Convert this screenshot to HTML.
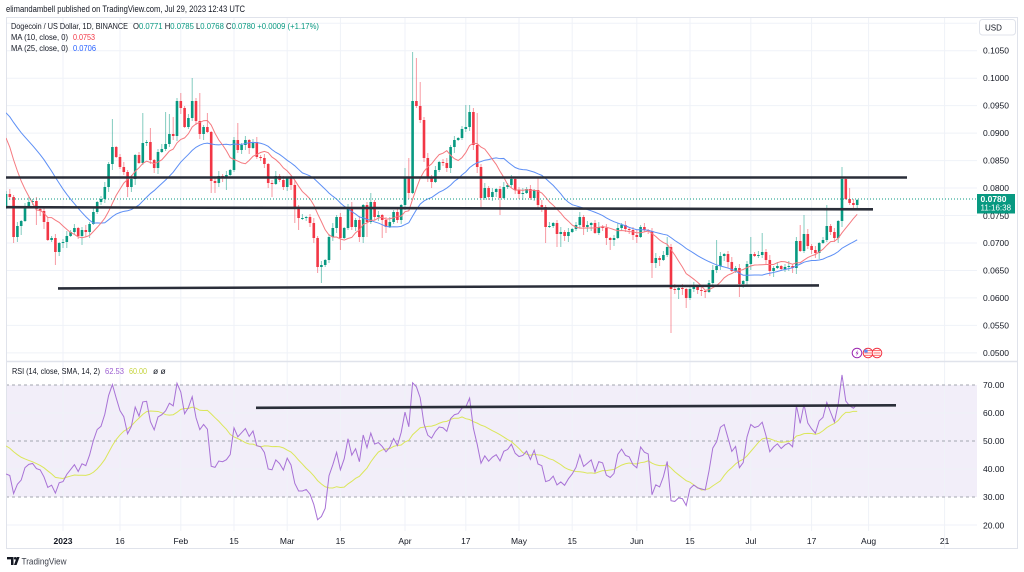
<!DOCTYPE html>
<html><head><meta charset="utf-8"><style>
html,body{margin:0;padding:0;background:#fff;}
svg{display:block;font-family:"Liberation Sans",sans-serif;}
</style></head><body>
<svg id="c" width="1024" height="572" viewBox="0 0 1024 572" xmlns="http://www.w3.org/2000/svg">
<defs>
<clipPath id="mp"><rect x="6" y="17" width="971" height="344"/></clipPath>
<clipPath id="rp"><rect x="6" y="362" width="971" height="167"/></clipPath>
</defs>
<rect width="1024" height="572" fill="#fff"/>
<!-- RSI band -->
<rect x="6" y="385" width="971" height="112" fill="#f2eef9"/>
<!-- grid -->
<g stroke="#eff2f8" stroke-width="1">
<line x1="6" y1="23.2" x2="977" y2="23.2"/><line x1="6" y1="50.7" x2="977" y2="50.7"/><line x1="6" y1="78.2" x2="977" y2="78.2"/><line x1="6" y1="105.6" x2="977" y2="105.6"/><line x1="6" y1="133.1" x2="977" y2="133.1"/><line x1="6" y1="160.6" x2="977" y2="160.6"/><line x1="6" y1="188" x2="977" y2="188"/><line x1="6" y1="215.5" x2="977" y2="215.5"/><line x1="6" y1="243" x2="977" y2="243"/><line x1="6" y1="270.5" x2="977" y2="270.5"/><line x1="6" y1="297.9" x2="977" y2="297.9"/><line x1="6" y1="325.4" x2="977" y2="325.4"/><line x1="6" y1="352.9" x2="977" y2="352.9"/>
<line x1="6" y1="413" x2="977" y2="413"/><line x1="6" y1="469" x2="977" y2="469"/><line x1="6" y1="525" x2="977" y2="525"/>
<line x1="63" y1="17" x2="63" y2="531"/><line x1="120" y1="17" x2="120" y2="531"/><line x1="180.8" y1="17" x2="180.8" y2="531"/><line x1="234" y1="17" x2="234" y2="531"/><line x1="287.2" y1="17" x2="287.2" y2="531"/><line x1="340.4" y1="17" x2="340.4" y2="531"/><line x1="405" y1="17" x2="405" y2="531"/><line x1="465.8" y1="17" x2="465.8" y2="531"/><line x1="519" y1="17" x2="519" y2="531"/><line x1="572.2" y1="17" x2="572.2" y2="531"/><line x1="636.8" y1="17" x2="636.8" y2="531"/><line x1="690" y1="17" x2="690" y2="531"/><line x1="750.8" y1="17" x2="750.8" y2="531"/><line x1="811.6" y1="17" x2="811.6" y2="531"/><line x1="868.6" y1="17" x2="868.6" y2="531"/><line x1="944.6" y1="17" x2="944.6" y2="549"/>
</g>
<g stroke="#a3a6af" stroke-width="1" stroke-dasharray="3,3">
<line x1="6" y1="385" x2="977" y2="385"/><line x1="6" y1="441" x2="977" y2="441"/><line x1="6" y1="497" x2="977" y2="497"/>
</g>
<!-- frame -->
<rect x="6.5" y="17.5" width="1011" height="531" fill="none" stroke="#e0e3eb" stroke-width="1"/>
<line x1="6" y1="361.5" x2="1018" y2="361.5" stroke="#e0e3eb" stroke-width="1.6"/>

<g id="main" clip-path="url(#mp)"></g>
<g id="rsi" clip-path="url(#rp)"></g>

<!-- trend lines -->
<g stroke="#2a2e39" stroke-width="2.6" stroke-linecap="butt">
<line x1="6" y1="177.5" x2="907" y2="177.5"/>
<line x1="6" y1="207.2" x2="873" y2="209.3"/>
<line x1="58" y1="288.4" x2="819" y2="285.4"/>
<line x1="256" y1="407.8" x2="896" y2="405.3"/>
</g>
<!-- price line -->
<line x1="6" y1="199" x2="977" y2="199" stroke="#089981" stroke-width="1" stroke-dasharray="1,2"/>

<!-- header -->
<text x="6" y="12" font-size="9" fill="#131722" textLength="239" lengthAdjust="spacingAndGlyphs">elimandambell published on TradingView.com, Jul 29, 2023 12:43 UTC</text>
<text x="11" y="29" font-size="8.5" fill="#131722" textLength="117" lengthAdjust="spacingAndGlyphs">Dogecoin / US Dollar, 1D, BINANCE</text>
<text x="133" y="29" font-size="8.5" fill="#089981" textLength="186" lengthAdjust="spacingAndGlyphs"><tspan fill="#131722">O</tspan>0.0771 <tspan fill="#131722">H</tspan>0.0785 <tspan fill="#131722">L</tspan>0.0768 <tspan fill="#131722">C</tspan>0.0780 +0.0009 (+1.17%)</text>
<text x="11" y="40" font-size="8.5" fill="#131722" textLength="57" lengthAdjust="spacingAndGlyphs">MA (10, close, 0)</text>
<text x="73" y="40" font-size="8.5" fill="#f23645" textLength="22" lengthAdjust="spacingAndGlyphs">0.0753</text>
<text x="11" y="51" font-size="8.5" fill="#131722" textLength="57" lengthAdjust="spacingAndGlyphs">MA (25, close, 0)</text>
<text x="73" y="51" font-size="8.5" fill="#2962ff" textLength="23" lengthAdjust="spacingAndGlyphs">0.0706</text>
<text x="12" y="374" font-size="8.5" fill="#131722" textLength="88" lengthAdjust="spacingAndGlyphs">RSI (14, close, SMA, 14, 2)</text>
<text x="105" y="374" font-size="8.5" fill="#9c5fd0" textLength="19" lengthAdjust="spacingAndGlyphs">62.53</text>
<text x="129" y="374" font-size="8.5" fill="#c6d43c" textLength="18" lengthAdjust="spacingAndGlyphs">60.00</text>
<text x="153" y="374" font-size="8.5" fill="#131722">ø ø</text>

<!-- price axis -->
<g font-size="8.5" fill="#131722" dominant-baseline="central">
<text x="983" y="50.7">0.1050</text><text x="983" y="78.2">0.1000</text><text x="983" y="105.6">0.0950</text><text x="983" y="133.1">0.0900</text><text x="983" y="160.6">0.0850</text><text x="983" y="188">0.0800</text><text x="983" y="215.8">0.0750</text><text x="983" y="243">0.0700</text><text x="983" y="270.5">0.0650</text><text x="983" y="297.9">0.0600</text><text x="983" y="325.4">0.0550</text><text x="983" y="352.9">0.0500</text>
<text x="983" y="385">70.00</text><text x="983" y="413">60.00</text><text x="983" y="441">50.00</text><text x="983" y="469">40.00</text><text x="983" y="497">30.00</text><text x="983" y="525.5">20.00</text>
</g>
<rect x="977" y="194" width="38" height="19.5" fill="#089981"/>
<text x="980.5" y="202" font-size="8.5" font-weight="bold" fill="#fff">0.0780</text>
<text x="980.5" y="210.5" font-size="8" fill="#fff">11:16:38</text>
<rect x="979.5" y="19.5" width="36" height="15.5" rx="3" fill="#fff" stroke="#e0e3eb"/>
<text x="985" y="30.5" font-size="8" fill="#131722">USD</text>

<!-- time axis -->
<g font-size="8.5" fill="#131722" text-anchor="middle">
<text x="63" y="544" font-weight="bold">2023</text><text x="120" y="544">16</text><text x="180.8" y="544">Feb</text><text x="234" y="544">15</text><text x="287.2" y="544">Mar</text><text x="340.4" y="544">15</text><text x="405" y="544">Apr</text><text x="465.8" y="544">17</text><text x="519" y="544">May</text><text x="572.2" y="544">15</text><text x="636.8" y="544">Jun</text><text x="690" y="544">15</text><text x="750.8" y="544">Jul</text><text x="811.6" y="544">17</text><text x="868.6" y="544">Aug</text><text x="944.6" y="544">21</text>
</g>

<!-- icons -->
<circle cx="857" cy="353" r="4.8" fill="#fff" stroke="#9c27b0" stroke-width="1"/>
<path d="M858 349.8 L855.6 353.4 L857.2 353.4 L856 356.4 L858.6 352.6 L857 352.6 Z" fill="#9c27b0"/>
<g>
<circle cx="868" cy="353" r="4.8" fill="#fff" stroke="#f23645" stroke-width="1"/>
<rect x="864.5" y="350" width="7" height="1.1" fill="#f77"/><rect x="864.5" y="352.4" width="7" height="1.1" fill="#f77"/><rect x="864.5" y="354.8" width="7" height="1.1" fill="#f77"/>
<rect x="864.2" y="349.6" width="3.4" height="3" fill="#5b8cf5"/>
<circle cx="877" cy="353" r="4.8" fill="#fff" stroke="#f23645" stroke-width="1"/>
<rect x="873.5" y="350" width="7" height="1.1" fill="#f77"/><rect x="873.5" y="352.4" width="7" height="1.1" fill="#f77"/><rect x="873.5" y="354.8" width="7" height="1.1" fill="#f77"/>
</g>

<!-- logo -->
<path d="M7 557 H13.5 V565 H11 V559.4 H7 Z" fill="#131722"/>
<circle cx="15.2" cy="558.3" r="1.3" fill="#131722"/>
<path d="M16.8 557 H19.6 L16.6 565 H14 Z" fill="#131722"/>
<text x="21.5" y="564.5" font-size="9.5" fill="#3b3f4a" textLength="45" lengthAdjust="spacingAndGlyphs">TradingView</text>
</svg>
<script>
(function(){
const NS="http://www.w3.org/2000/svg";
function el(tag,a,p){const e=document.createElementNS(NS,tag);for(const k in a)e.setAttribute(k,a[k]);p.appendChild(e);return e;}
const C=[194,197,237,226,221,206,202,201,209,211,
222,240,238,252,243,242,236,232,228,236,
230,232,224,212,202,199,187,164,147,157,
167,172,187,179,155,163,143,142,160,168,
152,149,144,134,136,101,108,127,118,101,
121,134,127,132,181,183,176,177,175,170,
140,150,145,140,148,142,157,158,164,183,
184,176,180,187,178,185,207,218,218,217,
223,238,267,265,260,237,228,217,238,228,
207,227,220,237,205,222,202,217,215,220,
227,222,212,220,205,177,193,101,106,120,
158,177,182,170,162,163,168,147,140,138,
129,127,112,
145,167,198,188,197,192,189,
198,187,185,179,190,194,193,189,198,190,
205,207,227,226,223,234,232,236,232,229,
225,217,227,225,223,233,227,228,238,240,
238,228,225,229,230,235,237,227,230,231,
263,258,260,255,247,289,290,288,289,298,289,
287,290,291,292,283,270,266,256,254,262,
271,268,284,281,264,254,256,255,252,260,
271,268,266,269,267,266,268,241,251,234,
246,250,253,243,240,226,232,238,221,179,
199,203,205,200];
const prior=[];for(let i=0;i<15;i++)prior.push(96);
prior.push(105,110,115,120,125,130,134,140,207);
const all=prior.concat(C);const P=prior.length;const N=C.length;
const X=k=>63+3.8*(k-16);
const W={3:[null,243],5:[null,235],9:[null,225],11:[null,229],14:[null,265],21:[null,245],29:[119,null],33:[null,197],37:[113,null],39:[128,null],43:[112,null],44:[114,null],45:[117,null],47:[93,null],50:[78,null],52:[93,null],54:[113,null],55:[null,193],56:[null,193],59:[null,190],62:[123,null],
71:[null,197],77:[null,223],78:[null,230],84:[null,283],89:[null,250],96:[null,237],97:[193,null],100:[null,238],106:[168,null],107:[158,null],108:[52,null],109:[58,null],110:[82,null],112:[153,null],122:[105,null],123:[105,null],
125:[113,null],126:[null,207],131:[null,215],141:[178,null],143:[null,243],146:[null,247],147:[null,247],153:[null,235],159:[null,245],160:[null,250],171:[null,278],175:[237,null],176:[null,333],178:[null,299],180:[null,308],
188:[240,null],194:[null,297],197:[237,null],200:[233,null],210:[225,null],211:[215,null],217:[205,null],221:[167,null],222:[177,null],223:[188,null]};
const g=document.getElementById('main');
const wicks=el('g',{},g), bodies=el('g',{},g);
for(let k=1;k<=N;k++){
 const o=all[P+k-2],c=all[P+k-1];
 const up=c<=o;const col=up?'#089981':'#f23645';
 let hi=Math.min(o,c)-(1+(k*7)%5), lo=Math.max(o,c)+(1+(k*13)%6);
 if(W[k]){if(W[k][0]!=null)hi=W[k][0];if(W[k][1]!=null)lo=W[k][1];}
 const x=X(k);
 el('line',{x1:x,y1:hi,x2:x,y2:lo,stroke:col,'stroke-width':1,'stroke-opacity':0.5},wicks);
 const t=Math.min(o,c),h=Math.max(1,Math.abs(c-o));
 el('rect',{x:(x-1.3).toFixed(2),y:t,width:2.6,height:h,fill:col},bodies);
}
function ma(n,k){let s=0;for(let j=0;j<n;j++)s+=all[P+k-1-j];return s/n;}
let p10=[],p25=[];
for(let k=1;k<=N;k++){p10.push(X(k).toFixed(2)+','+ma(10,k).toFixed(2));p25.push(X(k).toFixed(2)+','+ma(25,k).toFixed(2));}
el('polyline',{points:p25.join(' '),fill:'none',stroke:'#5d8ff5','stroke-width':1},g);
el('polyline',{points:p10.join(' '),fill:'none',stroke:'#f57a80','stroke-width':1},g);
// RSI
let ag=5.5,al=10.5;const R=[];
for(let k=1;k<=N;k++){const ch=all[P+k-2]-all[P+k-1];ag=(ag*13+Math.max(ch,0))/14;al=(al*13+Math.max(-ch,0))/14;R.push(100-100/(1+ag/al));}
const Rp=[];for(let i=0;i<13;i++)Rp.push(49);for(const r of R)Rp.push(r);
const ry=r=>385+(70-r)*2.8;
let pr=[],ps=[];
for(let k=1;k<=N;k++){
 pr.push(X(k).toFixed(2)+','+ry(R[k-1]).toFixed(2));
 let s=0;for(let j=k-1;j<=k+12;j++)s+=Rp[j];
 ps.push(X(k).toFixed(2)+','+ry(s/14).toFixed(2));
}
const gr=document.getElementById('rsi');
el('polyline',{points:ps.join(' '),fill:'none',stroke:'#dbe65a','stroke-width':1},gr);
el('polyline',{points:pr.join(' '),fill:'none',stroke:'#a872d6','stroke-width':1},gr);
})();
</script>
</body></html>
